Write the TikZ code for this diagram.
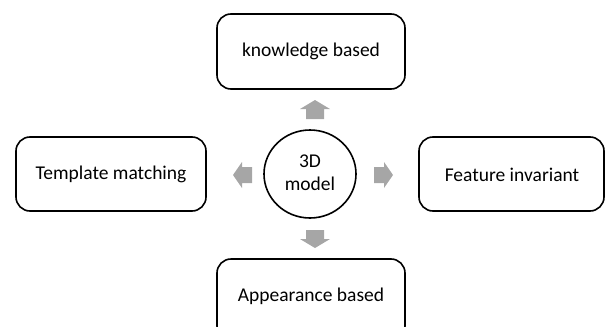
\documentclass[tikz,border=0pt]{standalone}
\usepackage{fontspec}
\setmainfont{Carlito}
\begin{document}
\begin{tikzpicture}[x=1pt,y=-1pt,
  box/.style={draw=black,line width=1.6pt,rounded corners=14pt,fill=white},
  lbl/.style={font=\fontsize{19.5}{23}\selectfont,text=black},
  blk/.style={fill=black!35,draw=none}]
\useasboundingbox (0,0) rectangle (606,327);
% boxes
\draw[box] (217,14) rectangle (405,89);
\draw[box] (16,137) rectangle (206,211);
\draw[box] (419,137) rectangle (604,211);
\draw[box] (217,259) rectangle (405,340);
\draw[line width=1.6pt] (310,174) ellipse (46 and 44);
% labels
\node[lbl] (kb) at (311,51) {knowledge based};
\node[lbl] (tm) at (111,174) {Template matching};
\node[lbl] (fi) at (512,175) {Feature invariant};
\node[lbl] (ab) at (311,296) {Appearance based};
\node[lbl,align=center] (m) at (310,173) {3D\\model};
% block arrows
\fill[blk] (315,100) -- (330,109) -- (324,109) -- (324,119) -- (306,119) -- (306,109) -- (300,109) -- cycle;
\fill[blk] (315,248) -- (330,239) -- (324,239) -- (324,230) -- (306,230) -- (306,239) -- (300,239) -- cycle;
\fill[blk] (393,175) -- (384,162) -- (384,167) -- (374,167) -- (374,183) -- (384,183) -- (384,188) -- cycle;
\fill[blk] (233,175) -- (242,162) -- (242,167) -- (252,167) -- (252,183) -- (242,183) -- (242,188) -- cycle;
\end{tikzpicture}
\end{document}
